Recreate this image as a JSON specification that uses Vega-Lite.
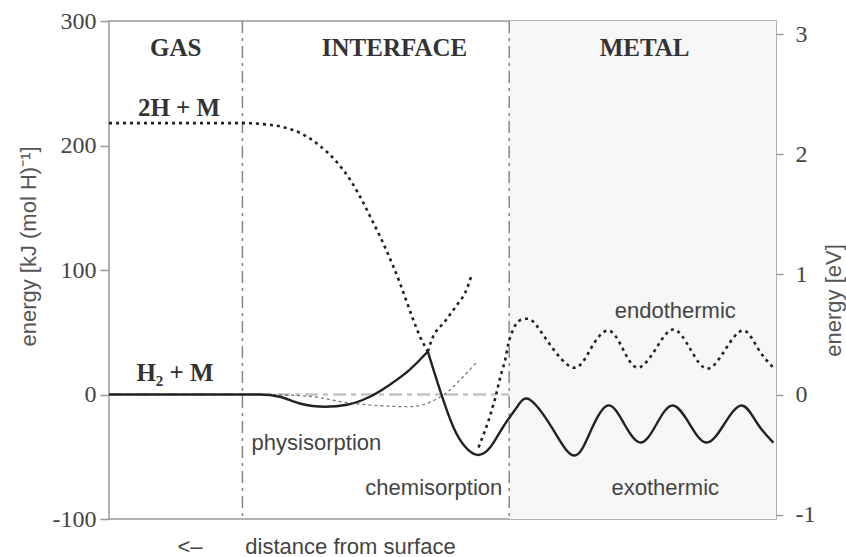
{
  "$schema": "https://vega.github.io/schema/vega-lite/v6.json",
  "width": 667,
  "height": 498,
  "autosize": {"type": "none"},
  "padding": {"left": 109, "top": 21, "right": 70, "bottom": 38},
  "background": "white",
  "config": {"view": {"stroke": "#999", "strokeWidth": 1.5}},
  "datasets": {
    "regions": [{"region": "METAL", "start": 60, "end": 100}],
    "dividers": [{"x": 20}, {"x": 60}],
    "curves": [
      {"series": "phys", "x": 0, "y": 0},
      {"series": "phys", "x": 22.6, "y": 0},
      {"series": "phys", "x": 25.6, "y": -1.8},
      {"series": "phys", "x": 28.6, "y": -7.2},
      {"series": "phys", "x": 32.4, "y": -9.8},
      {"series": "phys", "x": 35.7, "y": -8.2},
      {"series": "phys", "x": 39.1, "y": -1.8},
      {"series": "phys", "x": 42.1, "y": 7.9},
      {"series": "phys", "x": 45.1, "y": 20},
      {"series": "phys", "x": 47.8, "y": 34.5},
      {"series": "chem", "x": 47.8, "y": 34.5},
      {"series": "chem", "x": 49.6, "y": 3.9},
      {"series": "chem", "x": 51.6, "y": -25.9},
      {"series": "chem", "x": 53.4, "y": -42},
      {"series": "chem", "x": 55.2, "y": -48.5},
      {"series": "chem", "x": 57.1, "y": -42.8},
      {"series": "chem", "x": 59.1, "y": -25.9},
      {"series": "chem", "x": 61.2, "y": -9.8},
      {"series": "chem", "x": 63.1, "y": -4.2},
      {"series": "chem", "x": 66.4, "y": -26.6},
      {"series": "chem", "x": 69.7, "y": -49},
      {"series": "chem", "x": 72.25, "y": -28.9},
      {"series": "chem", "x": 74.8, "y": -8.8},
      {"series": "chem", "x": 77.25, "y": -23.7},
      {"series": "chem", "x": 79.7, "y": -38.6},
      {"series": "chem", "x": 82.1, "y": -23.7},
      {"series": "chem", "x": 84.5, "y": -8.8},
      {"series": "chem", "x": 87.05, "y": -23.7},
      {"series": "chem", "x": 89.6, "y": -38.6},
      {"series": "chem", "x": 92.25, "y": -23.7},
      {"series": "chem", "x": 94.9, "y": -8.8},
      {"series": "chem", "x": 97.25, "y": -23.7},
      {"series": "chem", "x": 99.6, "y": -38.6},
      {"series": "atoms", "x": 0, "y": 218},
      {"series": "atoms", "x": 20.1, "y": 218},
      {"series": "atoms", "x": 23.4, "y": 217},
      {"series": "atoms", "x": 26.1, "y": 214.8},
      {"series": "atoms", "x": 28.8, "y": 209.7},
      {"series": "atoms", "x": 31.6, "y": 199.8},
      {"series": "atoms", "x": 34.2, "y": 186.4},
      {"series": "atoms", "x": 36.3, "y": 171.3},
      {"series": "atoms", "x": 37.9, "y": 156.3},
      {"series": "atoms", "x": 39.3, "y": 141.5},
      {"series": "atoms", "x": 40.6, "y": 127.3},
      {"series": "atoms", "x": 42.5, "y": 104.5},
      {"series": "atoms", "x": 43.6, "y": 89.8},
      {"series": "atoms", "x": 44.6, "y": 75},
      {"series": "atoms", "x": 45.6, "y": 60.2},
      {"series": "atoms", "x": 46.6, "y": 46.8},
      {"series": "atoms", "x": 47.8, "y": 34.5},
      {"series": "h2rep", "x": 47.8, "y": 34.5},
      {"series": "h2rep", "x": 48.4, "y": 44.1},
      {"series": "h2rep", "x": 50.4, "y": 58.9},
      {"series": "h2rep", "x": 52.4, "y": 73.7},
      {"series": "h2rep", "x": 53.4, "y": 81.7},
      {"series": "h2rep", "x": 54.4, "y": 96.5},
      {"series": "endo", "x": 55.4, "y": -42.5},
      {"series": "endo", "x": 56.6, "y": -25.7},
      {"series": "endo", "x": 57.4, "y": -12.2},
      {"series": "endo", "x": 58.1, "y": 1.2},
      {"series": "endo", "x": 58.7, "y": 14.6},
      {"series": "endo", "x": 59.4, "y": 28},
      {"series": "endo", "x": 59.9, "y": 41.5},
      {"series": "endo", "x": 60.6, "y": 52.2},
      {"series": "endo", "x": 61.4, "y": 58.9},
      {"series": "endo", "x": 62.5, "y": 60.8},
      {"series": "endo", "x": 63.7, "y": 58},
      {"series": "endo", "x": 66, "y": 41},
      {"series": "endo", "x": 69.6, "y": 21.6},
      {"series": "endo", "x": 72.2, "y": 36.5},
      {"series": "endo", "x": 74.8, "y": 51.4},
      {"series": "endo", "x": 77.05, "y": 36.5},
      {"series": "endo", "x": 79.3, "y": 21.6},
      {"series": "endo", "x": 82, "y": 36.9},
      {"series": "endo", "x": 84.6, "y": 52.2},
      {"series": "endo", "x": 87.15, "y": 36.5},
      {"series": "endo", "x": 89.7, "y": 20.8},
      {"series": "endo", "x": 92.4, "y": 36.1},
      {"series": "endo", "x": 95.1, "y": 51.4},
      {"series": "endo", "x": 97.35, "y": 36.5},
      {"series": "endo", "x": 99.6, "y": 21.6},
      {"series": "alt", "x": 24.6, "y": 0},
      {"series": "alt", "x": 30.6, "y": -1.8},
      {"series": "alt", "x": 35.7, "y": -6.6},
      {"series": "alt", "x": 40.6, "y": -9},
      {"series": "alt", "x": 45.1, "y": -9.8},
      {"series": "alt", "x": 48.9, "y": -4.2},
      {"series": "alt", "x": 50.8, "y": 2.3},
      {"series": "alt", "x": 53.1, "y": 14.3},
      {"series": "alt", "x": 55.2, "y": 26.4}
    ],
    "boldLabels": [
      {"text": "GAS", "x": 10, "y": 278},
      {"text": "INTERFACE", "x": 42.8, "y": 278},
      {"text": "METAL", "x": 80.3, "y": 278},
      {"text": "2H + M", "x": 10.5, "y": 230.5},
      {"text": "H₂ + M", "x": 9.9, "y": 17.5}
    ],
    "sansLabels": [
      {"text": "physisorption", "x": 31.1, "y": -38.8},
      {"text": "chemisorption", "x": 48.7, "y": -75},
      {"text": "endothermic", "x": 84.9, "y": 66.7},
      {"text": "exothermic", "x": 83.4, "y": -74.8}
    ]
  },
  "layer": [
    {
      "layer": [
        {
          "data": {"name": "regions"},
          "mark": {"type": "rect", "color": "#f7f7f7"},
          "encoding": {
            "x": {"field": "start", "type": "quantitative", "scale": {"domain": [0, 100], "nice": false, "zero": false},
              "axis": {"orient": "bottom", "domain": false, "ticks": false, "labels": false, "grid": false,
                "title": "<–\u00a0\u00a0\u00a0\u00a0\u00a0\u00a0\u00a0distance from surface",
                "titleFont": "Liberation Sans", "titleFontSize": 22, "titleFontWeight": "normal", "titleColor": "#444",
                "titleX": 68, "titleY": 34, "titleAlign": "left", "titleBaseline": "alphabetic", "titleAnchor": null}},
            "x2": {"field": "end"},
            "y": {"datum": -100, "type": "quantitative", "scale": {"domain": [-100, 300], "nice": false, "zero": false},
              "axis": {"orient": "left", "values": [-100, 0, 100, 200, 300], "tickSize": 9, "tickColor": "#999", "tickWidth": 1.5,
                "domain": false, "grid": false, "labelFont": "Liberation Serif", "labelFontSize": 24, "labelColor": "#444", "labelPadding": 4,
                "labelExpr": "replace(datum.label, '−', '-')",
                "title": "energy [kJ (mol H)⁻¹]", "titleFont": "Liberation Sans", "titleFontSize": 22, "titleFontWeight": "normal",
                "titleColor": "#555", "titleX": -81, "titleY": 225, "titleAngle": -90, "titleAlign": "center", "titleBaseline": "middle"}},
            "y2": {"datum": 300}
          }
        },
        {
          "data": {"name": "dividers"},
          "mark": {"type": "rule", "color": "#888", "strokeWidth": 1.5, "strokeDash": [12, 5, 3, 5]},
          "encoding": {"x": {"field": "x", "type": "quantitative"}}
        },
        {
          "data": {"values": [{"level": 0, "from": 0, "to": 60}]},
          "mark": {"type": "rule", "color": "#c4c4c4", "strokeWidth": 2.5, "strokeDash": [13, 5, 5, 5]},
          "encoding": {
            "x": {"field": "from", "type": "quantitative"},
            "x2": {"field": "to"},
            "y": {"field": "level", "type": "quantitative"}
          }
        },
        {
          "data": {"name": "curves"},
          "transform": [{"filter": "datum.series === 'alt'"}],
          "mark": {"type": "line", "color": "#777", "strokeWidth": 1.3, "strokeDash": [3, 3], "interpolate": "monotone"},
          "encoding": {"x": {"field": "x", "type": "quantitative"}, "y": {"field": "y", "type": "quantitative"}}
        },
        {
          "data": {"name": "curves"},
          "transform": [{"filter": "datum.series === 'atoms' || datum.series === 'h2rep'"}],
          "mark": {"type": "line", "color": "#222", "strokeWidth": 2.6, "strokeDash": [3, 4], "interpolate": "monotone"},
          "encoding": {"x": {"field": "x", "type": "quantitative"}, "y": {"field": "y", "type": "quantitative"}, "detail": {"field": "series"}}
        },
        {
          "data": {"name": "curves"},
          "transform": [{"filter": "datum.series === 'endo'"}],
          "mark": {"type": "line", "color": "#222", "strokeWidth": 2.6, "strokeDash": [3, 4], "interpolate": "natural"},
          "encoding": {"x": {"field": "x", "type": "quantitative"}, "y": {"field": "y", "type": "quantitative"}}
        },
        {
          "data": {"name": "curves"},
          "transform": [{"filter": "datum.series === 'phys'"}],
          "mark": {"type": "line", "color": "#222", "strokeWidth": 2.4, "interpolate": "monotone"},
          "encoding": {"x": {"field": "x", "type": "quantitative"}, "y": {"field": "y", "type": "quantitative"}}
        },
        {
          "data": {"name": "curves"},
          "transform": [{"filter": "datum.series === 'chem'"}],
          "mark": {"type": "line", "color": "#222", "strokeWidth": 2.4, "interpolate": "natural"},
          "encoding": {"x": {"field": "x", "type": "quantitative"}, "y": {"field": "y", "type": "quantitative"}}
        },
        {
          "data": {"name": "boldLabels"},
          "mark": {"type": "text", "font": "Liberation Serif", "fontWeight": "bold", "fontSize": 25, "color": "#333", "align": "center", "baseline": "middle"},
          "encoding": {"x": {"field": "x", "type": "quantitative"}, "y": {"field": "y", "type": "quantitative"}, "text": {"field": "text"}}
        },
        {
          "data": {"name": "sansLabels"},
          "mark": {"type": "text", "font": "Liberation Sans", "fontSize": 22, "color": "#444", "align": "center", "baseline": "middle"},
          "encoding": {"x": {"field": "x", "type": "quantitative"}, "y": {"field": "y", "type": "quantitative"}, "text": {"field": "text"}}
        }
      ]
    },
    {
      "data": {"values": [{"ev": 0}]},
      "mark": {"type": "point", "opacity": 0},
      "encoding": {
        "y": {"field": "ev", "type": "quantitative", "scale": {"domain": [-1.0364, 3.1093], "nice": false, "zero": false},
          "axis": {"orient": "right", "values": [-1, 0, 1, 2, 3], "tickSize": 7, "tickColor": "#999", "tickWidth": 1.5,
            "domain": false, "grid": false, "labelFont": "Liberation Serif", "labelFontSize": 24, "labelColor": "#444", "labelPadding": 12,
            "labelExpr": "replace(datum.label, '−', '-')",
            "title": "energy [eV]", "titleFont": "Liberation Sans", "titleFontSize": 22, "titleFontWeight": "normal", "titleColor": "#555",
            "titleX": 57, "titleY": 279, "titleAngle": -90, "titleAlign": "center", "titleBaseline": "middle"}}
      }
    }
  ],
  "resolve": {"scale": {"y": "independent"}, "axis": {"y": "independent"}}
}
